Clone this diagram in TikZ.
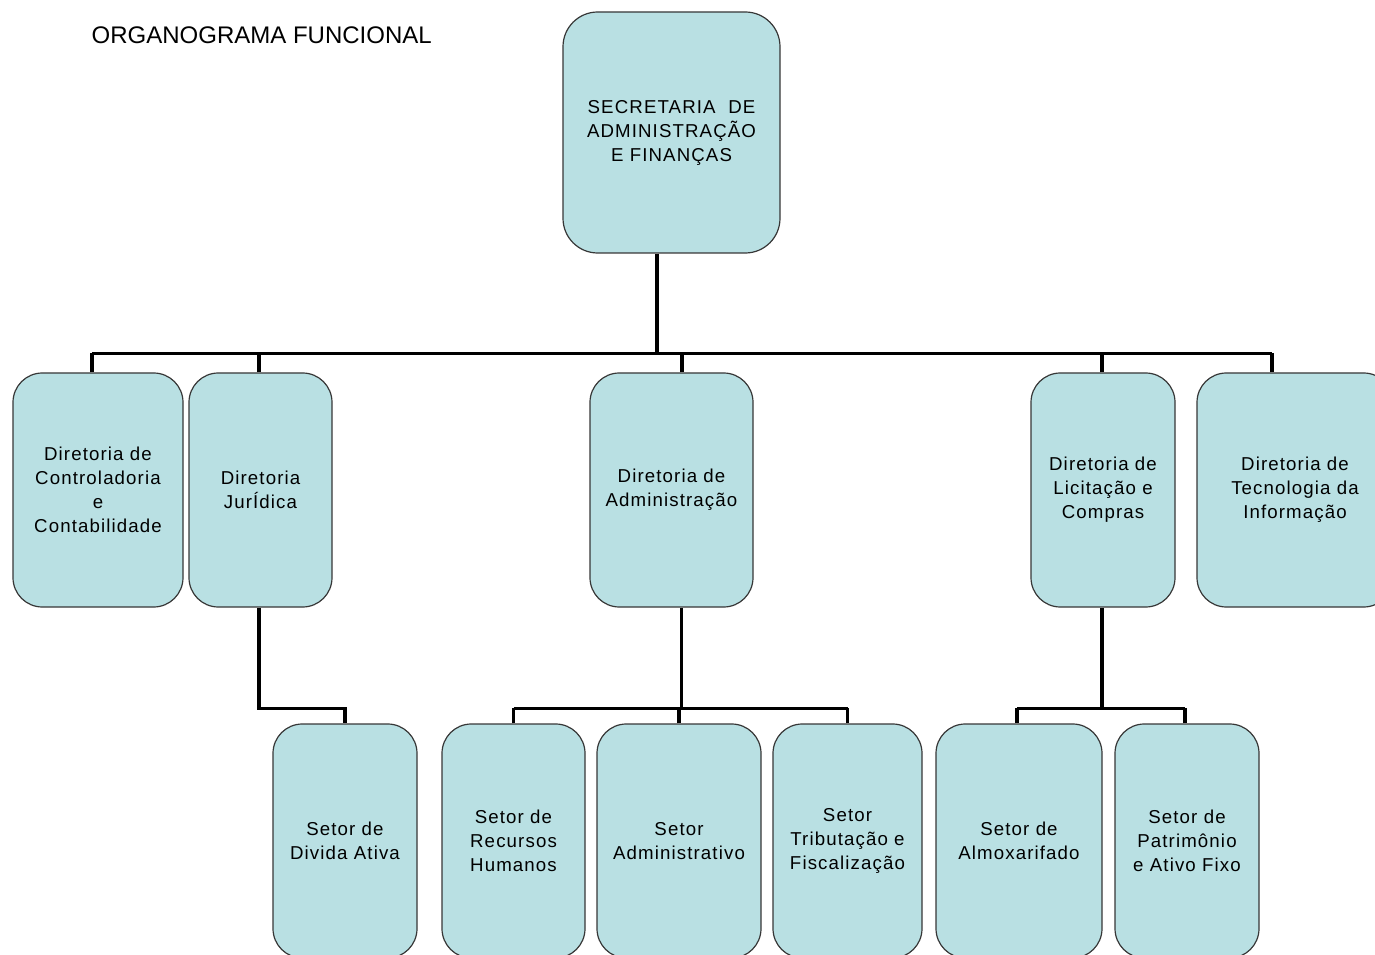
\documentclass[tikz,border=0pt]{standalone}
\usepackage{fontspec}
\setmainfont{Liberation Sans}
\newfontfamily\boxfont[LetterSpace=6]{Liberation Sans}
\usetikzlibrary{calc}
\definecolor{boxfill}{RGB}{185,224,227}
\definecolor{boxline}{RGB}{55,55,55}
\begin{document}
\begin{tikzpicture}[x=0.75pt, y=-0.75pt, line join=miter]
  \tikzset{
    unit/.style={draw=boxline, line width=0.9pt, fill=boxfill, rounded corners=22pt,
      align=center, inner sep=0pt, font=\boxfont\fontsize{14}{18}\selectfont},
    size/.style 2 args={minimum width=#1*0.75pt, minimum height=#2*0.75pt},
    link/.style={line width=2.6pt, black}
  }
  % page frame (boxes run off the edge)
  \clip (0,0) rectangle (1375,955);

  \node[anchor=west, font=\fontsize{18}{20}\selectfont] (title) at (87,35) {ORGANOGRAMA FUNCIONAL};

  % top
  \node[unit, size={217}{241}, rounded corners=26pt] (sec) at (671.5,132.5)
    {SECRETARIA\ \ DE\\ADMINISTRAÇÃO\\E FINANÇAS};

  % directorates
  \node[unit, size={170}{234}] (cont) at (98,490)
    {Diretoria de\\Controladoria\\e\\Contabilidade};
  \node[unit, size={143}{234}] (jur) at (260.5,490)
    {Diretoria\\JurÍdica};
  \node[unit, size={163}{234}] (adm) at (671.5,490)
    {Diretoria de\\Administração};
  \node[unit, size={144}{234}] (lic) at (1103,490)
    {Diretoria de\\Licitação e\\Compras};
  \node[unit, size={196}{234}] (tec) at (1295,490)
    {Diretoria de\\Tecnologia da\\Informação};

  % sectors
  \node[unit, size={144}{234}] (div) at (345,841)
    {Setor de\\Divida Ativa};
  \node[unit, size={143}{234}] (rh) at (513.5,841)
    {Setor de\\Recursos\\Humanos};
  \node[unit, size={164}{234}] (sadm) at (679,841)
    {Setor\\Administrativo};
  \node[unit, size={149}{234}] (trib) at (847.5,841)
    {Setor\\Tributação e\\Fiscalização};
  \node[unit, size={166}{234}] (alm) at (1019,841)
    {Setor de\\Almoxarifado};
  \node[unit, size={144}{234}] (pat) at (1187,841)
    {Setor de\\Patrimônio\\e Ativo Fixo};

  % connectors, top level
  \coordinate (bus) at (657,354);
  \draw[link] ($(sec.south)+(-14.5,0)$) -- (bus);
  \draw[link] ($(cont.north)+(-6,-19)$) -- ($(tec.north)+(-23,-19)$);
  \draw[link] ($(cont.north)+(-6,0)$) -- ++(0,-19);
  \draw[link] ($(jur.north)+(-1.5,0)$) -- ++(0,-19);
  \draw[link] ($(adm.north)+(10.5,0)$) -- ++(0,-19);
  \draw[link] ($(lic.north)+(-1,0)$) -- ++(0,-19);
  \draw[link] ($(tec.north)+(-23,0)$) -- ++(0,-19);

  % connectors, sectors
  \draw[link] ($(jur.south)+(-1.5,0)$) |- ($(div.north)+(0,-15)$) -- (div.north);

  \draw[link] ($(adm.south)+(10,0)$) -- ++(0,102);
  \draw[link] ($(rh.north)+(0,-15)$) -- ($(trib.north)+(0,-15)$);
  \foreach \s in {rh, sadm, trib}
    \draw[link] (\s.north) -- ++(0,-15);

  \draw[link] ($(lic.south)+(-1,0)$) -- ++(0,102);
  \draw[link] ($(alm.north)+(-2,-15)$) -- ($(pat.north)+(-2,-15)$);
  \foreach \s in {alm, pat}
    \draw[link] ($(\s.north)+(-2,0)$) -- ++(0,-15);
\end{tikzpicture}
\end{document}
